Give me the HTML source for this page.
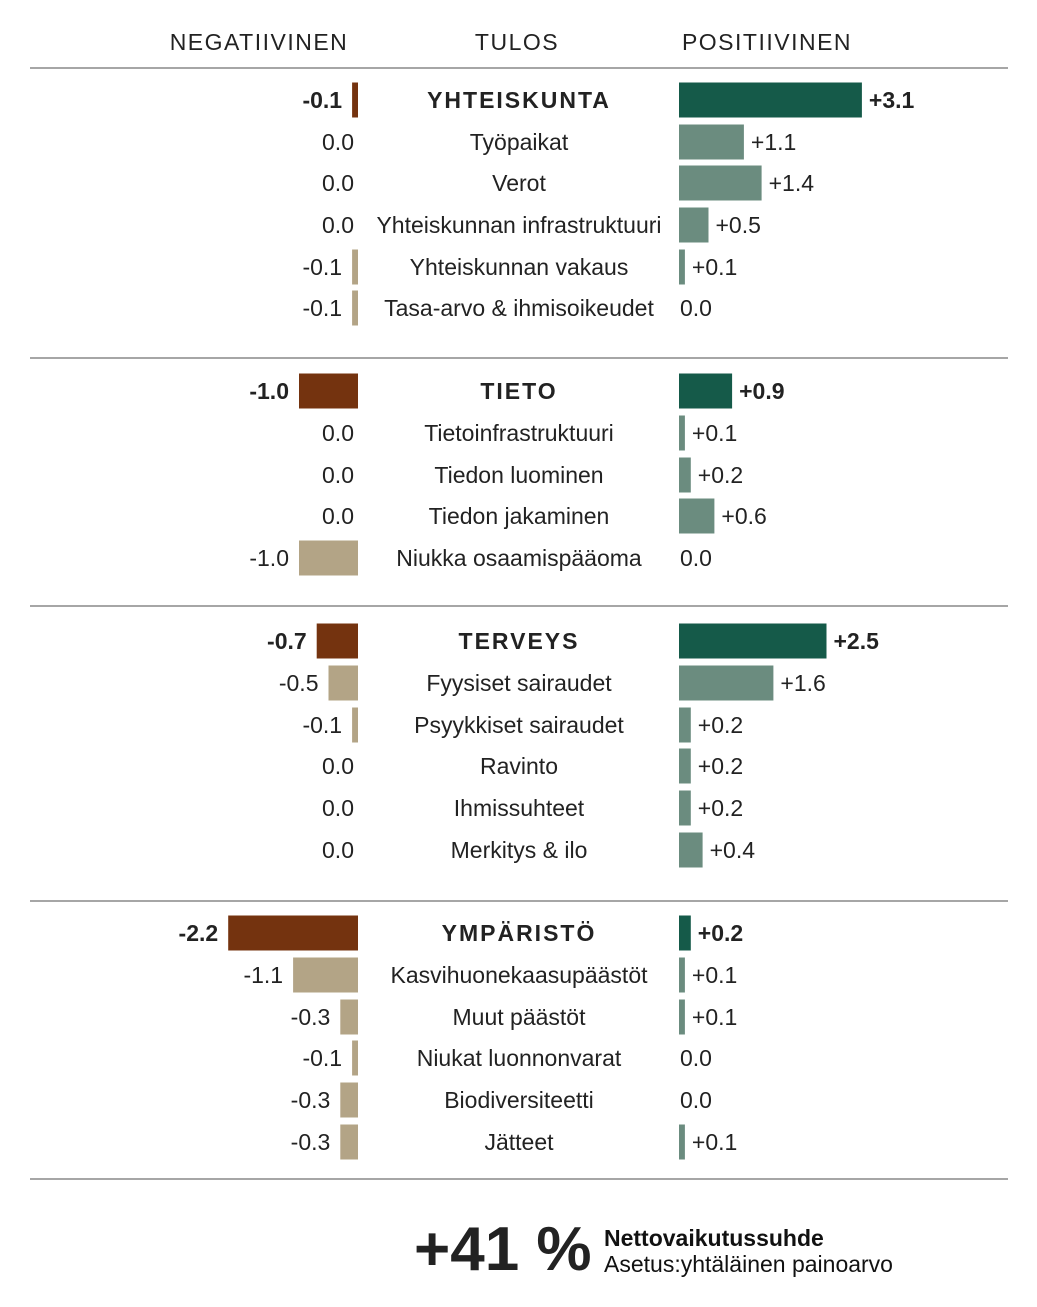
<!DOCTYPE html>
<html><head><meta charset="utf-8"><style>
body{margin:0;background:#fff;}
svg{display:block;font-family:"Liberation Sans",sans-serif;}
</style></head><body>
<svg id="c" width="1037" height="1307" viewBox="0 0 1037 1307">
<text x="259" y="50" text-anchor="middle" font-size="23" letter-spacing="1.5" fill="#222">NEGATIIVINEN</text>
<text x="517" y="50" text-anchor="middle" font-size="23" letter-spacing="1.5" fill="#222">TULOS</text>
<text x="767" y="50" text-anchor="middle" font-size="23" letter-spacing="1.5" fill="#222">POSITIIVINEN</text>
<line x1="30" x2="1008" y1="68" y2="68" stroke="#888" stroke-width="1.5"/>
<g id="rows"></g>
<text x="414" y="1270" font-size="62" font-weight="bold" fill="#222">+41 %</text>
<text x="604" y="1246" font-size="23" font-weight="bold" fill="#111">Nettovaikutussuhde</text>
<text x="604" y="1272" font-size="23" fill="#111">Asetus:yhtäläinen painoarvo</text>
</svg>
<script>
const labels=["YHTEISKUNTA","Työpaikat","Verot","Yhteiskunnan infrastruktuuri","Yhteiskunnan vakaus","Tasa-arvo & ihmisoikeudet",
"TIETO","Tietoinfrastruktuuri","Tiedon luominen","Tiedon jakaminen","Niukka osaamispääoma",
"TERVEYS","Fyysiset sairaudet","Psyykkiset sairaudet","Ravinto","Ihmissuhteet","Merkitys & ilo",
"YMPÄRISTÖ","Kasvihuonekaasupäästöt","Muut päästöt","Niukat luonnonvarat","Biodiversiteetti","Jätteet"];
const isHeader=[1,0,0,0,0,0,1,0,0,0,0,1,0,0,0,0,0,1,0,0,0,0,0];
const negValues=[-0.1,0,0,0,-0.1,-0.1,-1.0,0,0,0,-1.0,-0.7,-0.5,-0.1,0,0,0,-2.2,-1.1,-0.3,-0.1,-0.3,-0.3];
const posValues=[3.1,1.1,1.4,0.5,0.1,0,0.9,0.1,0.2,0.6,0,2.5,1.6,0.2,0.2,0.2,0.4,0.2,0.1,0.1,0,0,0.1];
const rowY=[100,142,183,225,267,308,391,433,475,516,558,641,683,725,766,808,850,933,975,1017,1058,1100,1142];
const sepY=[358,606,901,1179];
const unit=59, negX=358, posX=679;
const ns="http://www.w3.org/2000/svg";
const g=document.getElementById('rows');
function mk(t,a){const e=document.createElementNS(ns,t);for(const k in a)e.setAttribute(k,a[k]);g.appendChild(e);return e;}
function fmt(v,pos){if(v===0)return "0.0";return (pos?"+":"")+v.toFixed(1);}
labels.forEach((lab,i)=>{
  const y=rowY[i],h=isHeader[i];
  const nv=negValues[i],pv=posValues[i];
  const nw=Math.abs(nv)*unit,pw=pv*unit;
  if(nv!==0){const r=mk('rect',{x:negX-nw,y:y-17.5,width:nw,height:35,fill:h?'#74330f':'#b3a486'});
    
    }
  if(pv!==0){const r=mk('rect',{x:posX,y:y-17.5,width:pw,height:35,fill:h?'#155a49':'#6b8c7f'});
    
    }
  const fw=h?'bold':'normal';
  const nt=mk('text',{x:nv===0?354:negX-nw-10,y:y+8,'text-anchor':'end','font-size':23,'font-weight':fw,fill:'#222'});
  nt.textContent=fmt(nv,false);
  
  
  const pt=mk('text',{x:pv===0?680:posX+pw+7,y:y+8,'font-size':23,'font-weight':fw,fill:'#222'});
  pt.textContent=fmt(pv,true);
  
  
  const lt=mk('text',{x:519,y:y+8,'text-anchor':'middle','font-size':23,'font-weight':fw,fill:'#222','letter-spacing':h?2:0});
  lt.textContent=lab;
  
  
});
sepY.forEach(y=>{const l=mk('line',{x1:30,x2:1008,y1:y,y2:y,stroke:'#888','stroke-width':1.5});
  
  });
</script>
</body></html>
